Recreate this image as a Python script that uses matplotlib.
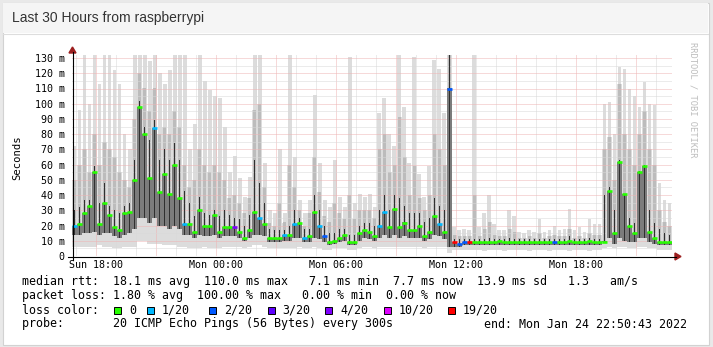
"""
SmokePing style latency graph, last 30 hours from raspberrypi.
"""

import matplotlib

matplotlib.use("Agg")
import matplotlib.pyplot as plt
import numpy as np
from matplotlib.lines import Line2D
from matplotlib.patches import Polygon, Rectangle

W, H = 713, 347

# time axis: 15 minute bins starting Sun 16:48 (hours since Sun 00:00)
start_hour = 16.8
bin_hours = 0.25

# median rtt per bin (ms)
med = [20, 21, 28, 33, 55, 21, 35, 27, 19, 17,
       28, 29, 50, 98, 80, 51, 84, 42, 54, 41,
       60, 38, 21, 21, 16, 30, 20, 20, 27, 16,
       19, 19, 19, 16, 12, 17, 29, 25, 21, 12,
       12, 12, 14, 14, 21, 22, 12, 13, 29, 20,
       13, 9, 10, 12, 14, 9, 9, 15, 17, 16,
       13, 20, 29, 19, 31, 19, 22, 17, 17, 20,
       13, 16, 26, 21, 16, 110, 9, 8, 9, 9,
       9, 9, 9, 9, 9, 10, 9, 9, 9, 9,
       9, 9, 9, 9, 9, 9, 9, 9, 9, 10,
       9, 9, 9, 10, 9, 9, 9, 43, 15, 62,
       41, 20, 15, 55, 59, 16, 12, 9, 9, 9]

# lost pings out of 20 per bin
loss = [1, 0, 0, 0, 0, 0, 0, 0, 0, 0,
        0, 0, 0, 0, 0, 0, 1, 0, 0, 0,
        0, 0, 1, 0, 0, 0, 0, 0, 0, 0,
        0, 0, 4, 0, 0, 0, 0, 1, 0, 0,
        0, 0, 1, 0, 1, 0, 1, 0, 0, 1,
        2, 0, 0, 0, 0, 0, 0, 0, 0, 0,
        0, 1, 1, 0, 0, 0, 0, 0, 0, 0,
        0, 0, 0, 1, 0, 2, 19, 2, 2, 19,
        0, 0, 0, 0, 0, 0, 0, 0, 0, 0,
        0, 0, 0, 0, 0, 0, 2, 0, 0, 0,
        0, 0, 0, 0, 0, 0, 0, 0, 0, 0,
        0, 0, 0, 0, 0, 0, 0, 0, 0, 0]

# smoke: lowest ping, dark core bottom/top, mid smoke top, highest ping (ms)
lo = [6, 6, 6, 6, 6, 7, 6, 6, 5, 5,
      6, 6, 6, 10, 10, 8, 8, 8, 7, 7,
      7, 6, 6, 5, 5, 5, 6, 5, 5, 5,
      6, 6, 6, 6, 5, 6, 7, 7, 6, 5,
      5, 5, 5, 5, 5, 6, 5, 5, 6, 5,
      4, 4, 5, 5, 5, 4, 4, 5, 6, 6,
      5, 6, 6, 6, 6, 6, 6, 6, 6, 6,
      5, 6, 6, 6, 6, 2, 4, 4, 4, 4,
      4, 4, 3, 4, 4, 4, 3, 4, 4, 4,
      4, 3, 4, 4, 4, 3, 4, 4, 4, 3,
      4, 4, 4, 3, 4, 4, 5, 6, 5, 6,
      6, 5, 5, 6, 6, 5, 5, 4, 4, 4]

dlo = [14, 14, 15, 15, 16, 14, 15, 15, 13, 12,
       14, 15, 18, 25, 25, 22, 25, 20, 20, 18,
       20, 18, 14, 14, 12, 14, 13, 13, 14, 12,
       13, 13, 13, 12, 10, 12, 14, 14, 13, 9,
       9, 9, 10, 10, 12, 12, 9, 9, 12, 11,
       9, 7, 8, 9, 10, 7, 7, 10, 12, 11,
       10, 12, 14, 12, 14, 12, 13, 12, 12, 12,
       10, 11, 14, 13, 11, 6, 6, 6, 7, 7,
       7, 7, 7, 7, 7, 7, 7, 7, 7, 7,
       7, 7, 7, 7, 7, 7, 7, 7, 7, 7,
       7, 7, 7, 7, 7, 7, 10, 12, 8, 12,
       10, 9, 9, 12, 12, 9, 8, 7, 7, 7]

dk = [30, 32, 37, 37, 59, 35, 48, 33, 30, 28,
      33, 35, 63, 102, 85, 76, 89, 63, 70, 63,
      74, 63, 43, 35, 26, 39, 28, 27, 30, 26,
      30, 27, 25, 24, 20, 27, 63, 48, 35, 18,
      17, 17, 17, 20, 30, 25, 18, 18, 40, 30,
      20, 15, 15, 18, 18, 14, 14, 20, 22, 22,
      20, 30, 40, 30, 40, 38, 33, 28, 28, 28,
      22, 25, 38, 33, 30, 132, 11, 11, 11, 11,
      11, 11, 11, 12, 11, 11, 11, 12, 11, 11,
      11, 11, 11, 11, 11, 11, 11, 11, 11, 13,
      11, 11, 11, 12, 11, 11, 40, 45, 30, 63,
      41, 25, 22, 56, 60, 30, 22, 18, 15, 14]

mid = [50, 60, 70, 55, 80, 60, 75, 70, 65, 55,
       50, 45, 90, 120, 110, 95, 110, 80, 85, 80,
       95, 85, 60, 45, 50, 70, 60, 55, 60, 55,
       50, 38, 40, 35, 28, 38, 96, 100, 45, 22,
       20, 35, 22, 60, 45, 30, 20, 28, 65, 42,
       26, 22, 35, 28, 24, 40, 24, 30, 30, 30,
       25, 70, 80, 55, 60, 91, 65, 40, 59, 38,
       30, 40, 80, 70, 60, 132, 14, 13, 13, 13,
       40, 13, 18, 22, 14, 13, 13, 18, 16, 12,
       12, 13, 12, 15, 12, 13, 14, 13, 13, 18,
       12, 13, 12, 15, 14, 14, 70, 78, 50, 113,
       80, 70, 60, 80, 95, 70, 60, 30, 22, 20]

hi = [72, 96, 132, 100, 132, 113, 132, 132, 122, 113,
      80, 70, 132, 132, 132, 128, 132, 120, 113, 122,
      132, 132, 132, 70, 87, 132, 115, 109, 105, 104,
      85, 55, 66, 51, 39, 52, 132, 132, 61, 30,
      28, 70, 28, 132, 65, 37, 28, 37, 106, 61,
      37, 32, 63, 39, 32, 131, 35, 41, 39, 41,
      32, 94, 104, 80, 72, 132, 98, 61, 131, 54,
      39, 59, 129, 123, 94, 132, 19, 17, 18, 17,
      132, 19, 28, 40, 21, 17, 17, 30, 26, 16,
      15, 17, 16, 24, 16, 17, 20, 17, 18, 31,
      17, 19, 16, 24, 21, 21, 100, 101, 80, 124,
      123, 110, 105, 98, 114, 100, 99, 48, 37, 35]

loss_levels = [0, 1, 2, 3, 4, 10, 19]
loss_labels = ["0", "1/20", "2/20", "3/20", "4/20", "10/20", "19/20"]
loss_colors = ["#26ff00", "#00b8ff", "#0059ff", "#5e00ff",
               "#7e00ff", "#dd00ff", "#ff0000"]

y_ticks = list(range(0, 131, 10))
y_tick_labels = ["0"] + [f"{v} m" for v in y_ticks[1:]]
x_tick_hours = [18, 24, 30, 36, 42]
x_tick_labels = ["Sun 18:00", "Mon 00:00", "Mon 06:00", "Mon 12:00", "Mon 18:00"]

title = "Last 30 Hours from raspberrypi"
stats_rtt = "median rtt:  18.1 ms avg  110.0 ms max   7.1 ms min  7.7 ms now  13.9 ms sd   1.3   am/s"
stats_loss = "packet loss: 1.80 % avg  100.00 % max   0.00 % min  0.00 % now"
probe = "probe:       20 ICMP Echo Pings (56 Bytes) every 300s"
end_text = "end: Mon Jan 24 22:50:43 2022"

MONO = "DejaVu Sans Mono"


def fx(x):
    return x / W


def fy(y):
    return 1 - y / H


def loss_color(n):
    col = loss_colors[0]
    for lev, c in zip(loss_levels, loss_colors):
        if n >= lev:
            col = c
    return col


fig = plt.figure(figsize=(W / 100, H / 100), dpi=100, facecolor="#e9e9e9")

# panel + title bar (behind the axes)
fig.add_artist(Rectangle((fx(2.5), fy(344.5)), 706 / W, 342 / H, transform=fig.transFigure,
                         facecolor="white", edgecolor="#d2d2d2", linewidth=0.8, zorder=-10))
fig.add_artist(Rectangle((fx(3), fy(33)), 705 / W, 30 / H, transform=fig.transFigure,
                         facecolor="#f5f5f5", edgecolor="none", zorder=-9))
fig.add_artist(Line2D([fx(3), fx(708)], [fy(33.5), fy(33.5)], transform=fig.transFigure,
                      color="#dddddd", linewidth=0.8, zorder=-8))
fig.text(fx(11.5), fy(18), title, fontsize=10, family="Liberation Sans",
         color="#333333", va="center", ha="left")

# graph area
ax = fig.add_axes([fx(72), fy(256), 600 / W, 201 / H])
ax.set_xlim(start_hour, start_hour + 30)
ax.set_ylim(0, 132)
for s in ax.spines.values():
    s.set_visible(False)
ax.set_facecolor("none")

t = start_hour + bin_hours * np.arange(len(med))
tc = t + bin_hours / 2
lo_a, dlo_a, dk_a, mid_a, hi_a, med_a = (
    np.array(a, float) for a in (lo, dlo, dk, mid, hi, med))

# smoke: light outer spread, mid spread, dark body, black core
ax.bar(t, mid_a - lo_a, bottom=lo_a, width=bin_hours, align="edge",
       color="#dcdcdc", linewidth=0, zorder=1)
ax.bar(tc, hi_a - lo_a, bottom=lo_a, width=bin_hours * 0.8, align="center",
       color="#dcdcdc", linewidth=0, zorder=1)
ax.bar(tc, mid_a - dlo_a, bottom=dlo_a, width=bin_hours * 0.6, align="center",
       color="#bcbcbc", linewidth=0, zorder=1.1)
ax.bar(t, med_a - dlo_a, bottom=dlo_a, width=bin_hours, align="edge",
       color="#7c7c7c", linewidth=0, zorder=2.1)
ax.bar(tc, dk_a - dlo_a, bottom=dlo_a, width=bin_hours * 0.35, align="center",
       color="#303030", linewidth=0, zorder=2.2)

# grid: red every 3 h / 10 ms, grey every hour / 5 ms
dots = (0, (1, 1))
for h in range(17, 47):
    major = h % 3 == 0
    ax.axvline(h, color="#efb4b4" if major else "#d9d9d9", linewidth=0.72,
               linestyle=dots, zorder=2)
for v in range(5, 131, 5):
    major = v % 10 == 0
    ax.axhline(v, color="#efb4b4" if major else "#d9d9d9", linewidth=0.72,
               linestyle=dots, zorder=2)

# median, coloured by loss
ax.hlines(med, t, t + bin_hours, colors=[loss_color(n) for n in loss],
          linewidth=1.9, zorder=3)

ax.set_yticks(y_ticks)
ax.set_yticklabels(y_tick_labels)
ax.set_xticks(x_tick_hours)
ax.set_xticklabels(x_tick_labels)
ax.tick_params(axis="y", length=0, pad=5.2, labelsize=7.2)
ax.tick_params(axis="x", length=0, pad=3.2, labelsize=7.2)
for lab in ax.get_xticklabels() + ax.get_yticklabels():
    lab.set_family(MONO)

# axes with arrows
fig.add_artist(Line2D([fx(68), fx(676)], [fy(256.5), fy(256.5)], transform=fig.transFigure,
                      color="black", linewidth=0.8))
fig.add_artist(Line2D([fx(72.5), fx(72.5)], [fy(260), fy(52)], transform=fig.transFigure,
                      color="black", linewidth=0.8))
fig.add_artist(Polygon([(fx(675), fy(253)), (fx(675), fy(260)), (fx(681), fy(256.5))],
                       closed=True, transform=fig.transFigure, color="#9c1f1f"))
fig.add_artist(Polygon([(fx(69), fy(53)), (fx(76), fy(53)), (fx(72.5), fy(47))],
                       closed=True, transform=fig.transFigure, color="#9c1f1f"))

fig.text(fx(17), fy(158), "Seconds", rotation=90, fontsize=7.6, family=MONO,
         va="center", ha="center")
fig.text(fx(693), fy(100), "RRDTOOL / TOBI OETIKER", rotation=270, fontsize=6.3,
         family=MONO, color="#bdbdbd", va="center", ha="center")

# legend block
fs = 8.35
fig.text(fx(22), fy(282), stats_rtt, fontsize=fs, family=MONO, va="center")
fig.text(fx(22), fy(296), stats_loss, fontsize=fs, family=MONO, va="center")
fig.text(fx(22), fy(310), "loss color:", fontsize=fs, family=MONO, va="center")
fig.text(fx(22), fy(324), probe, fontsize=fs, family=MONO, va="center")
fig.text(fx(686.5), fy(324), end_text, fontsize=fs, family=MONO, va="center", ha="right")

box_x = [114, 146.5, 209, 267.5, 325, 384, 448]
for bx, lab, col in zip(box_x, loss_labels, loss_colors):
    fig.add_artist(Rectangle((fx(bx), fy(313.5)), 7 / W, 7 / H, transform=fig.transFigure,
                             facecolor=col, edgecolor="black", linewidth=0.7))
    fig.text(fx(bx + 15), fy(310), lab, fontsize=fs, family=MONO, va="center")

fig.savefig("out.png", dpi=100, facecolor=fig.get_facecolor())
